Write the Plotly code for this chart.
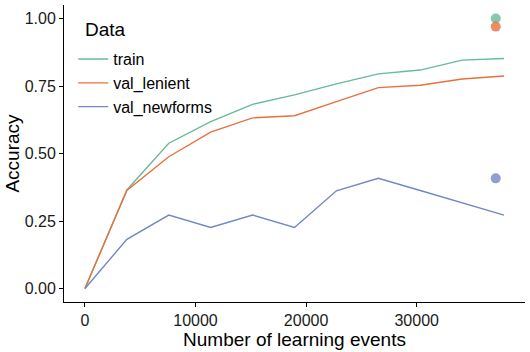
import plotly.graph_objects as go

events = [0, 3790, 7580, 11370, 15160, 18950, 22740, 26530, 30320, 34110, 37900]
train = [0.0, 0.365, 0.538, 0.618, 0.682, 0.717, 0.758, 0.795, 0.809, 0.846, 0.852]
val_lenient = [0.0, 0.363, 0.488, 0.579, 0.632, 0.640, 0.692, 0.744, 0.753, 0.776, 0.787]
val_newforms = [0.0, 0.182, 0.272, 0.226, 0.272, 0.226, 0.362, 0.408, 0.363, 0.318, 0.272]

final_x = [37150]
final_train = [1.0]
final_lenient = [0.970]
final_newforms = [0.408]

names = ["train", "val_lenient", "val_newforms"]
colors = ["#66BB97", "#E8703F", "#7487C4"]
series = [train, val_lenient, val_newforms]
finals = [final_train, final_lenient, final_newforms]

x_ticks = [0, 10000, 20000, 30000]
x_tick_labels = ["0", "10000", "20000", "30000"]
y_ticks = [0, 0.25, 0.5, 0.75, 1.0]
y_tick_labels = ["0.00", "0.25", "0.50", "0.75", "1.00"]

FONT = "Liberation Sans, Arial, Helvetica, sans-serif"

fig = go.Figure()
for n, c, s in zip(names, colors, series):
    fig.add_trace(go.Scatter(x=events, y=s, mode="lines", name=n,
                             line=dict(color=c, width=1.4)))
for n, c, f in zip(names, colors, finals):
    fig.add_trace(go.Scatter(x=final_x, y=f, mode="markers", name=n,
                             showlegend=False,
                             marker=dict(color=c, size=10, opacity=0.8,
                                         line=dict(width=0))))

axis_common = dict(showline=True, linecolor="black", linewidth=1,
                   ticks="outside", ticklen=4, tickcolor="black", tickwidth=1,
                   showgrid=False, zeroline=False,
                   tickfont=dict(family=FONT, size=16, color="#1a1a1a"))

fig.update_layout(
    width=530, height=352,
    margin=dict(l=64, r=5, t=5, b=50),
    paper_bgcolor="white", plot_bgcolor="white",
    font=dict(family=FONT, color="black"),
    xaxis=dict(range=[-1895, 39795], tickvals=x_ticks, ticktext=x_tick_labels,
               title=dict(text="Number of learning events",
                          font=dict(family=FONT, size=19), standoff=0),
               **axis_common),
    yaxis=dict(range=[-0.05, 1.05], tickvals=y_ticks, ticktext=y_tick_labels,
               title=dict(text="Accuracy", font=dict(family=FONT, size=19),
                          standoff=0),
               **axis_common),
    legend=dict(x=0.02, y=0.875, xanchor="left", yanchor="top",
                bgcolor="rgba(0,0,0,0)",
                font=dict(family=FONT, size=16)),
    showlegend=True,
    annotations=[dict(text="Data", xref="paper", yref="paper",
                      x=0.041, y=0.919, xanchor="left", yanchor="middle",
                      showarrow=False, font=dict(family=FONT, size=19))],
)

fig.write_html("out.html", config={"displayModeBar": False},
               post_script="document.body.style.margin='0';document.body.style.overflow='hidden';")
